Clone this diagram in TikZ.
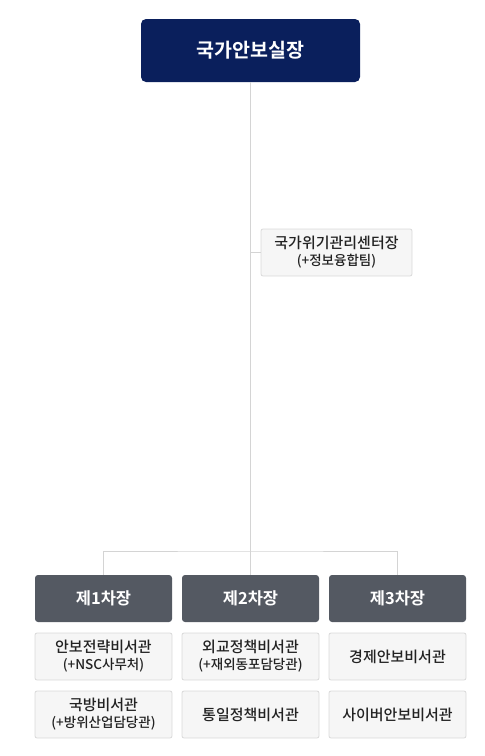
\documentclass[tikz,border=0pt]{standalone}
\usepackage{fontspec}
\setmainfont{Noto Sans CJK KR}[BoldFont={Noto Sans CJK KR Bold}]
\newfontfamily\mediumfont{Noto Sans CJK KR Medium}
\definecolor{chiefblue}{HTML}{0A1F5C}
\definecolor{deputygray}{HTML}{545962}
\definecolor{officefill}{HTML}{F6F6F6}
\definecolor{officeline}{HTML}{D9D9D9}
\definecolor{linkgray}{HTML}{D4D4D4}
\definecolor{textdark}{HTML}{222222}
\tikzset{
  chief/.style={fill=chiefblue,rounded corners=5pt,minimum width=219pt,minimum height=63pt,inner sep=0pt,text=white,font=\bfseries\fontsize{19.5}{21}\selectfont},
  deputy/.style={fill=deputygray,rounded corners=3pt,minimum width=137pt,minimum height=47pt,inner sep=0pt,text=white,font=\bfseries\fontsize{16.5}{18}\selectfont},
  office/.style={fill=officefill,draw=officeline,line width=.8pt,rounded corners=2pt,minimum width=137pt,minimum height=47pt,inner sep=0pt,align=center,text=textdark,font=\mediumfont\fontsize{15}{19}\selectfont},
  link/.style={draw=linkgray,line width=1pt}
}
\newcommand{\subline}[1]{\\[-2pt]{\fontsize{13.5}{16}\selectfont #1}}
\begin{document}
\begin{tikzpicture}[x=1pt,y=-1pt]
	\useasboundingbox (0,0) rectangle (485,756);
	% top
	\node[chief] (chief) at (250.5,50.5) {국가안보실장};
	\node[office,minimum width=151pt] (center) at (336.5,252.5) {국가위기관리센터장\subline{(+정보융합팀)}};
	\coordinate (fork) at (250.5,551);
	\draw[link] (chief.south) -- (fork);
	\draw[link] (chief.south |- center.west) -- (center.west);
	% deputies
	\node[deputy] (dep1) at (103.5,598.5) {제1차장};
	\node[deputy] (dep2) at (250.5,598.5) {제2차장};
	\node[deputy] (dep3) at (397.5,598.5) {제3차장};
	\draw[link] (dep1.north) |- (fork) -| (dep3.north);
	\draw[link] (fork) -- (dep2.north);
	% offices
	\node[office] (sec11) at (103.5,656.5) {안보전략비서관\subline{(+NSC사무처)}};
	\node[office] (sec12) at (103.5,714.5) {국방비서관\subline{(+방위산업담당관)}};
	\node[office] (sec21) at (250.5,656.5) {외교정책비서관\subline{(+재외동포담당관)}};
	\node[office] (sec22) at (250.5,714.5) {통일정책비서관};
	\node[office] (sec31) at (397.5,656.5) {경제안보비서관};
	\node[office] (sec32) at (397.5,714.5) {사이버안보비서관};
\end{tikzpicture}
\end{document}
